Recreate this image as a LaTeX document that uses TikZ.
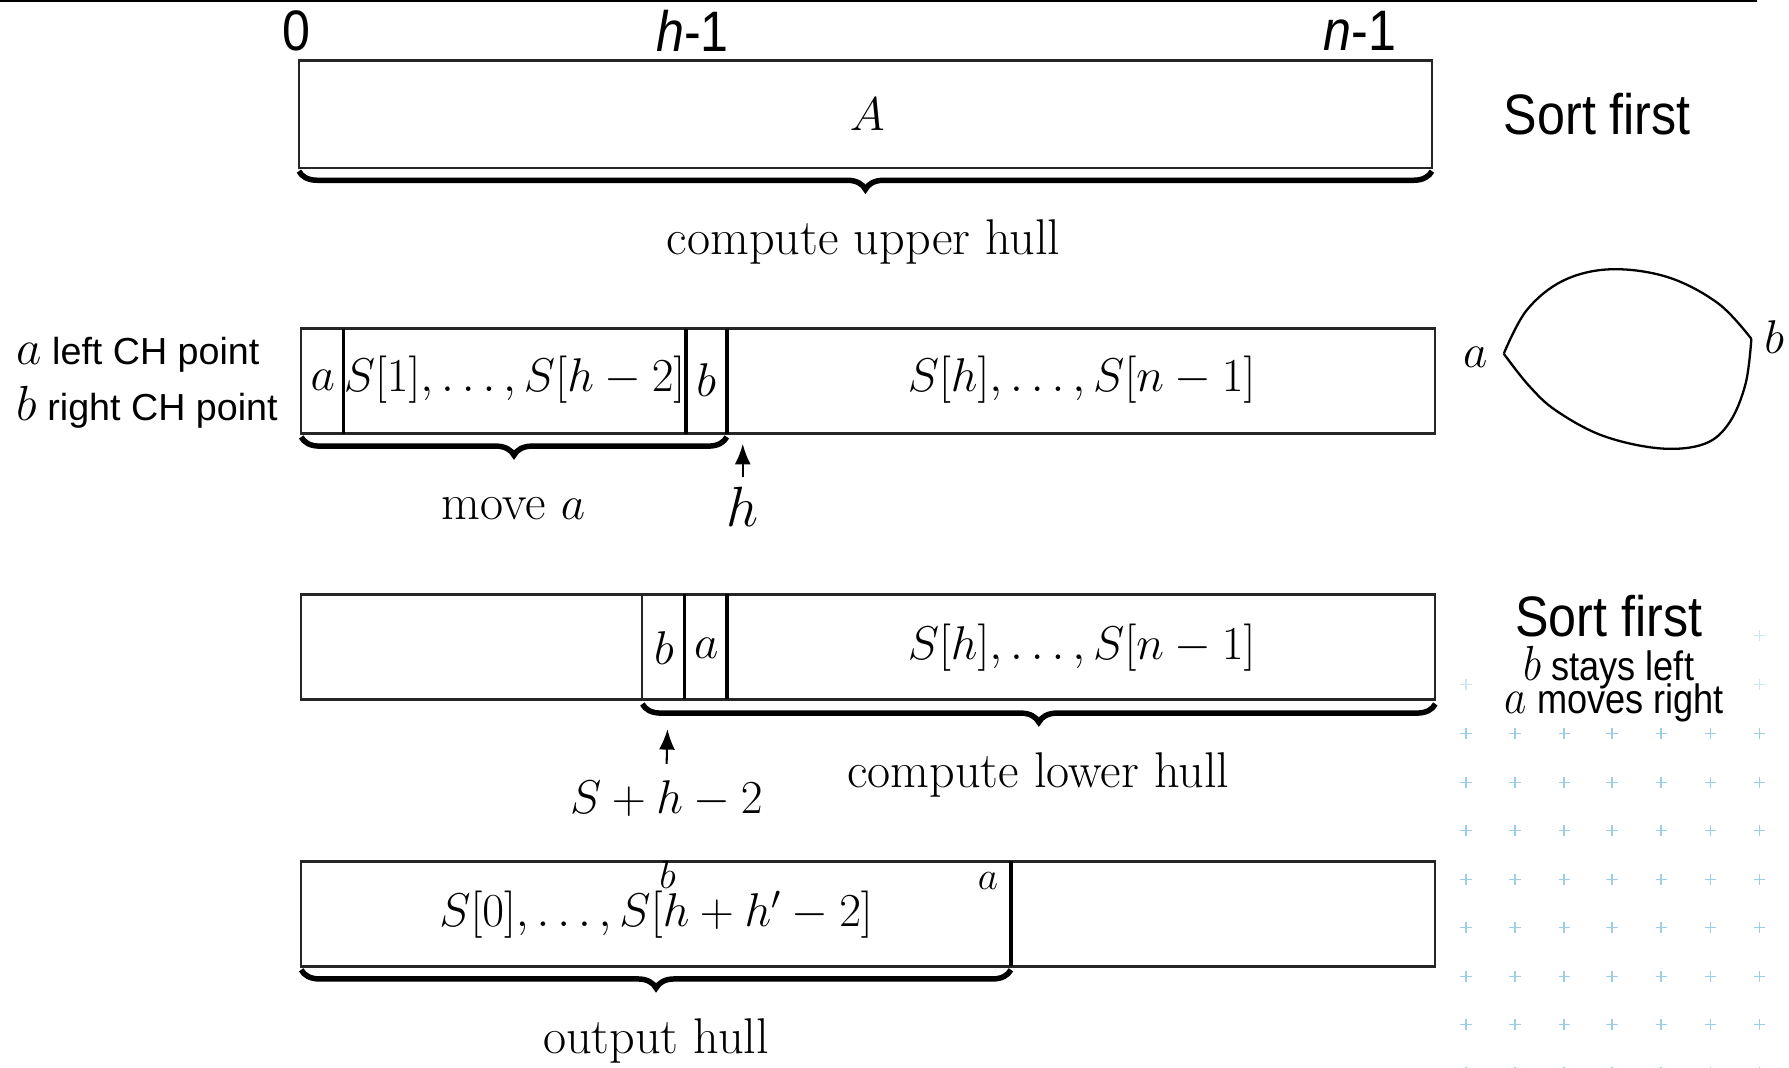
\documentclass[tikz,border=0pt]{standalone}
\usepackage{fontspec}
\usepackage{graphicx}
\newfontfamily\arialf{Liberation Sans}
\usetikzlibrary{decorations.pathreplacing,arrows.meta}
\definecolor{crossblue}{HTML}{9CCEEB}
\newcommand\bigsans{\arialf\fontsize{25}{30}\selectfont}
\newcommand\midsans{\arialf\fontsize{18}{21}\selectfont}
\newcommand\smlsans{\arialf\fontsize{16.5}{19}\selectfont}
\newcommand\cmtext{\fontsize{20}{24}\selectfont}
\newcommand\cmlab{\fontsize{22}{26}\selectfont}
\newcommand\sq[1]{\scalebox{0.88}[1]{#1}}
\newcommand\mv[1]{\scalebox{1.25}{$#1$}}
\tikzset{
  box/.style={draw=black!85, line width=1pt},
  thickdiv/.style={draw=black, line width=1.6pt},
  thindiv/.style={draw=black!85, line width=0.8pt},
  ubrace/.style={decorate, decoration={brace, amplitude=8pt}, line width=2.4pt},
  uparrow/.style={-{Latex[length=9pt,width=7pt]}, line width=0.9pt},
  cross/.style={draw=crossblue, line width=0.7pt},
  txt/.style={inner sep=1pt},
}
\begin{document}
\begin{tikzpicture}[x=0.5pt,y=-0.5pt]
\useasboundingbox (0,0) rectangle (1568,936);

% background crosses
\foreach \y in {643,686,728,771,813,856,898,940}{
  \foreach \x in {1285,1328,1371,1413,1456,1499,1542}{
    \draw[cross] (\x-5,\y) -- (\x+5,\y) (\x,\y-5) -- (\x,\y+5);
  }
}
\foreach \x/\y in {1285/600,1542/600,1542/557}{
  \draw[cross,opacity=0.5] (\x-5,\y) -- (\x+5,\y) (\x,\y-5) -- (\x,\y+5);
}

% top rule
\draw[line width=0.8pt] (0,1) -- (1540,1);

% index labels
\node[txt] (lab0) at (260,27) {\bigsans\sq{0}};
\node[txt] (labh) at (607,27) {\bigsans\sq{\textit{h}-1}};
\node[txt] (labn) at (1192,27) {\bigsans\sq{\textit{n}-1}};

% row 1
\draw[box] (262,53) rectangle (1255,147);
\node[txt] (A) at (760,100) {\cmtext $A$};
\coordinate (b1r) at (1255,150);
\coordinate (b1l) at (262,150);
\draw[ubrace] (b1r) -- (b1l);
\node[txt] (cuh) at (757,212) {\cmlab compute upper hull};
\node[txt] (sf1) at (1400,100) {\bigsans\sq{Sort first}};

% left legend
\node[txt,anchor=west] (lega) at (12,311) {\smlsans \mv{a} left CH point};
\node[txt,anchor=west] (legb) at (12,357) {\smlsans \mv{b} right CH point};

% row 2
\draw[box] (264,288) rectangle (1258,380);
\draw[thickdiv] (301,288) -- (301,380);
\draw[thickdiv] (601,288) -- (601,380);
\draw[thickdiv] (637,288) -- (637,380);
\node[txt] (r2a) at (283,333) {\cmtext $a$};
\node[txt] (r2s) at (451,333) {\cmtext $S[1],\ldots,S[h-2]$};
\node[txt] (r2b) at (619,333) {\cmtext $b$};
\node[txt] (r2r) at (948,333) {\cmtext $S[h],\ldots,S[n-1]$};
\coordinate (b2r) at (637,383);
\coordinate (b2l) at (264,383);
\draw[ubrace] (b2r) -- (b2l);
\node[txt] (mva) at (450,446) {\cmlab move $a$};
\coordinate (hpt) at (651,389);
\node[txt] (hlab) at (651,444) {\fontsize{23}{26}\selectfont $h$};
\draw[uparrow,shorten <=3pt] (hlab.north) -- (hpt);

% hull sketch
\coordinate (ha) at (1318,310);
\coordinate (hb) at (1535,297);
\draw[line width=1pt] plot[smooth,tension=0.6] coordinates {(1318,310) (1338,272) (1370,246) (1412,236) (1462,243) (1506,266) (1535,297)};
\draw[line width=1pt] plot[smooth,tension=0.6] coordinates {(1535,297) (1530,336) (1516,370) (1494,389) (1455,393) (1405,382) (1364,360) (1340,338) (1318,310)};
\node[txt] (hla) at (1293,313) {\fontsize{20}{24}\selectfont $a$};
\node[txt] (hlb) at (1555,295) {\fontsize{20}{24}\selectfont $b$};

% row 3
\draw[box] (264,521) rectangle (1258,613);
\draw[thindiv] (563,521) -- (563,613);
\draw[thickdiv] (600,521) -- (600,613);
\draw[thickdiv] (637,521) -- (637,613);
\node[txt] (r3b) at (582,568) {\cmtext $b$};
\node[txt] (r3a) at (619,568) {\cmtext $a$};
\node[txt] (r3r) at (948,568) {\cmtext $S[h],\ldots,S[n-1]$};
\coordinate (b3r) at (1258,617);
\coordinate (b3l) at (563,617);
\draw[ubrace] (b3r) -- (b3l);
\node[txt] (clh) at (910,679) {\cmlab compute lower hull};
\coordinate (spt) at (585,639);
\node[txt] (slab) at (584,700) {\fontsize{22}{26}\selectfont $S+h-2$};
\draw[uparrow,shorten <=6pt] (slab.north) -- (spt);
\node[inner sep=0pt] (sf2) at (1410,540) {\bigsans\sq{Sort first}};
\node[inner sep=0pt] (bst) at (1410,585) {\midsans\sq{\mv{b} stays left}};
\node[inner sep=0pt] (amr) at (1415,616) {\midsans\sq{\mv{a} moves right}};

% row 4
\draw[box] (264,755) rectangle (1258,847);
\draw[thickdiv] (886,755) -- (886,847);
\node[txt] (r4s) at (575,802) {\cmtext $S[0],\ldots,S[h+h'-2]$};
\node[inner sep=0pt] (r4b) at (585,767) {\fontsize{18}{20}\selectfont $b$};
\node[inner sep=0pt] (r4a) at (866,772) {\fontsize{18}{20}\selectfont $a$};
\coordinate (b4r) at (886,850);
\coordinate (b4l) at (264,850);
\draw[ubrace] (b4r) -- (b4l);
\node[txt] (ohl) at (575,912) {\cmlab output hull};
\end{tikzpicture}
\end{document}
